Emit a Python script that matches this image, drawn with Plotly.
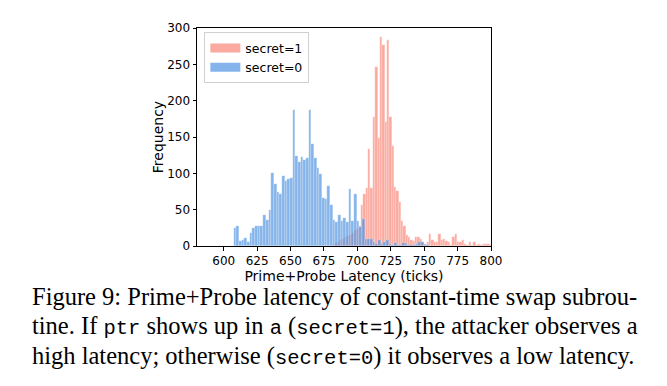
import plotly.graph_objects as go

# ---- data ----
blue_start = 608.5
blue_width = 2.0
blue_counts = [25, 28, 7, 8, 11, 6, 18, 25, 28, 28, 28, 43, 36, 50, 101, 86, 75, 72, 96, 89,
               92, 93, 187, 124, 116, 123, 118, 121, 187, 141, 121, 108, 99, 66, 65, 82, 57, 36,
               33, 42, 35, 39, 33, 79, 35, 71, 35, 26, 37, 9, 9, 10, 5, 3, 8, 3, 5, 8, 3, 2,
               4, 2, 1, 4, 4, 1, 1, 2, 3, 5, 6, 2, 1]

red_start = 682.7
red_width = 1.75
red_counts = [2, 4, 6, 8, 10, 12, 14, 15, 18, 20, 24, 28, 56, 71, 80, 133, 80, 178, 246, 149,
              288, 276, 171, 284, 178, 137, 81, 76, 60, 34, 28, 15, 12, 8, 7, 12, 13, 9, 6, 3,
              5, 17, 8, 5, 5, 17, 8, 9, 7, 5, 2, 12, 17, 5, 6, 8, 3, 2, 5, 1, 5, 1, 3, 2,
              3, 3, 3, 2]

series_names = ["secret=1", "secret=0"]
x_ticks = [600, 625, 650, 675, 700, 725, 750, 775, 800]
y_ticks = [0, 50, 100, 150, 200, 250, 300]

blue_x = [blue_start + i * blue_width for i in range(len(blue_counts))]
red_x = [red_start + i * red_width for i in range(len(red_counts))]

RED = "rgba(250,128,114,0.68)"
BLUE = "rgba(74,144,226,0.68)"
EDGE = "rgba(255,255,255,0.6)"

fig = go.Figure()
fig.add_trace(go.Bar(x=red_x, y=red_counts, width=red_width, name=series_names[0],
                     showlegend=False, marker=dict(color=RED, line=dict(color=EDGE, width=0.4))))
fig.add_trace(go.Bar(x=blue_x, y=blue_counts, width=blue_width, name=series_names[1],
                     showlegend=False, marker=dict(color=BLUE, line=dict(color=EDGE, width=0.4))))
# legend patches (wide rectangles as in the reference)
fig.add_trace(go.Scatter(x=[None], y=[None], mode="lines", name=series_names[0],
                         line=dict(color=RED, width=9)))
fig.add_trace(go.Scatter(x=[None], y=[None], mode="lines", name=series_names[1],
                         line=dict(color=BLUE, width=9)))

axis_common = dict(showline=True, linecolor="black", linewidth=1, mirror=True,
                   ticks="outside", ticklen=3.5, tickwidth=0.8, tickcolor="black",
                   showgrid=False, zeroline=False,
                   tickfont=dict(family="DejaVu Sans", size=12, color="black"))

fig.update_xaxes(range=[580, 800], tickvals=x_ticks, **axis_common,
                 title=dict(text="Prime+Probe Latency (ticks)",
                            font=dict(family="DejaVu Sans", size=14, color="black"),
                            standoff=0))
fig.update_yaxes(range=[0, 300], tickvals=y_ticks, **axis_common,
                 title=dict(text="Frequency",
                            font=dict(family="DejaVu Sans", size=14, color="black"),
                            standoff=0))

mono = "font-family:'Liberation Mono';font-size:20.5px"
lines = [
    "Figure 9: Prime+Probe latency of constant-time swap subrou-",
    f"tine. If <span style=\"{mono}\">ptr</span> shows up in <span style=\"{mono}\">a</span> "
    f"(<span style=\"{mono}\">secret=1</span>), the attacker observes a",
    f"high latency; otherwise (<span style=\"{mono}\">secret=0</span>) it observes a low latency.",
]
# page is offset by the 8px body margin, so pixel targets below are minus 8
L, T, W, H = 189, 20, 294, 218.5
ys = [297 - 8, 327 - 8, 357 - 8]
annotations = []
for txt, Y in zip(lines, ys):
    annotations.append(dict(text=txt, xref="paper", yref="paper",
                            x=(30 - 8 - L) / W, y=(T + H - Y) / H,
                            xanchor="left", yanchor="middle", showarrow=False,
                            font=dict(family="Liberation Serif", size=24.5, color="black")))

fig.update_layout(
    width=659, height=378,
    margin=dict(l=L, r=659 - L - W, t=T, b=378 - T - H),
    paper_bgcolor="white", plot_bgcolor="white",
    barmode="overlay", bargap=0,
    showlegend=True,
    legend=dict(x=0.025, y=0.98, xanchor="left", yanchor="top",
                bgcolor="rgba(255,255,255,0.8)", bordercolor="#d0d0d0", borderwidth=1,
                font=dict(family="DejaVu Sans", size=12.5, color="black"),
                traceorder="normal", itemwidth=30, tracegroupgap=0),
    annotations=annotations,
)

fig.write_html("out.html")
